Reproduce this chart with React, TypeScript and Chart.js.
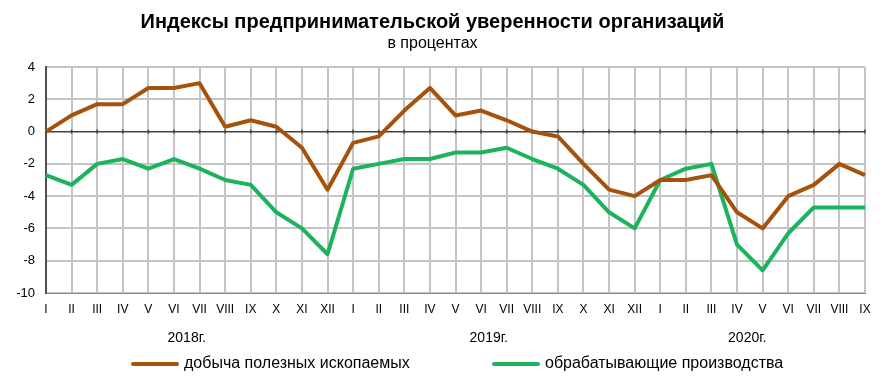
import React, { useEffect, useRef } from 'react';
import { Chart, registerables } from 'chart.js';

Chart.register(...registerables);

const FONT = "'Liberation Sans', Arial, sans-serif";

const MONTHS_2018 = ['I', 'II', 'III', 'IV', 'V', 'VI', 'VII', 'VIII', 'IX', 'X', 'XI', 'XII'];
const MONTHS_2019 = ['I', 'II', 'III', 'IV', 'V', 'VI', 'VII', 'VIII', 'IX', 'X', 'XI', 'XII'];
const MONTHS_2020 = ['I', 'II', 'III', 'IV', 'V', 'VI', 'VII', 'VIII', 'IX'];
const categories = [...MONTHS_2018, ...MONTHS_2019, ...MONTHS_2020];

// добыча полезных ископаемых
const mining = [
  0, 1, 1.7, 1.7, 2.7, 2.7, 3, 0.3, 0.7, 0.3, -1, -3.6,
  -0.7, -0.3, 1.3, 2.7, 1, 1.3, 0.7, 0, -0.3, -2, -3.6, -4,
  -3, -3, -2.7, -5, -6, -4, -3.3, -2, -2.7,
];
// обрабатывающие производства
const manufacturing = [
  -2.7, -3.3, -2, -1.7, -2.3, -1.7, -2.3, -3, -3.3, -5, -6, -7.6,
  -2.3, -2, -1.7, -1.7, -1.3, -1.3, -1, -1.7, -2.3, -3.3, -5, -6,
  -3, -2.3, -2, -7, -8.6, -6.3, -4.7, -4.7, -4.7,
];

const seriesNames = ['добыча полезных ископаемых', 'обрабатывающие производства'];
const seriesColors = ['#A5520C', '#1DB35C'];
const yearLabels = ['2018г.', '2019г.', '2020г.'];
const yearCenters = [5.5, 17.3, 27.4];

const TITLE = 'Индексы предпринимательской уверенности организаций';
const SUBTITLE = 'в процентах';

const extrasPlugin = {
  id: 'extras',
  beforeDatasetsDraw(chart: any) {
    const { ctx, scales } = chart;
    const x = scales.x;
    const y = scales.y;
    const y0 = y.getPixelForValue(0);
    ctx.save();
    ctx.strokeStyle = '#404040';
    ctx.lineWidth = 1.5;
    for (let i = 0; i < categories.length; i++) {
      const px = x.getPixelForValue(i);
      ctx.beginPath();
      ctx.moveTo(px, y0 - 2);
      ctx.lineTo(px, y0 + 2);
      ctx.stroke();
    }
    ctx.restore();
  },
  afterDraw(chart: any) {
    const { ctx, scales, chartArea } = chart;
    const x = scales.x;
    ctx.save();
    ctx.fillStyle = '#000';
    ctx.font = `14px ${FONT}`;
    ctx.textAlign = 'center';
    ctx.textBaseline = 'middle';
    yearLabels.forEach((lab, i) => {
      ctx.fillText(lab, x.getPixelForValue(yearCenters[i]), chartArea.bottom + 45);
    });
    // legend
    const ly = chartArea.bottom + 71;
    const starts = [133, 494];
    ctx.font = `16px ${FONT}`;
    ctx.textAlign = 'left';
    seriesNames.forEach((name, i) => {
      const sx = starts[i];
      ctx.strokeStyle = seriesColors[i];
      ctx.lineWidth = 4;
      ctx.lineCap = 'round';
      ctx.beginPath();
      ctx.moveTo(sx, ly);
      ctx.lineTo(sx + 44, ly);
      ctx.stroke();
      ctx.fillStyle = '#000';
      ctx.fillText(name, sx + 51, ly);
    });
    ctx.restore();
  },
};

export default function App() {
  const ref = useRef<HTMLCanvasElement>(null);
  useEffect(() => {
    if (!ref.current) return;
    Chart.defaults.font.family = FONT;
    const chart = new Chart(ref.current, {
      type: 'line',
      data: {
        labels: categories,
        datasets: [
          {
            label: seriesNames[0],
            data: mining,
            borderColor: seriesColors[0],
            backgroundColor: seriesColors[0],
            borderWidth: 4,
            pointRadius: 0,
            tension: 0,
            borderJoinStyle: 'round',
          },
          {
            label: seriesNames[1],
            data: manufacturing,
            borderColor: seriesColors[1],
            backgroundColor: seriesColors[1],
            borderWidth: 4,
            pointRadius: 0,
            tension: 0,
            borderJoinStyle: 'round',
          },
        ],
      },
      options: {
        responsive: false,
        animation: false,
        layout: { padding: { left: 0, right: 18, top: 0, bottom: 58 } },
        plugins: {
          legend: { display: false },
          tooltip: { enabled: false },
          title: {
            display: true,
            text: TITLE,
            color: '#000',
            font: { family: FONT, size: 20, weight: 'bold' },
            padding: { top: 10, bottom: 0.4 },
          },
          subtitle: {
            display: true,
            text: SUBTITLE,
            color: '#000',
            font: { family: FONT, size: 16 },
            padding: { top: 0, bottom: 13.4 },
          },
        },
        scales: {
          x: {
            offset: false,
            grid: { color: '#c4c4c4', lineWidth: 2, drawTicks: false },
            border: { color: '#8a8a8a', width: 1 },
            ticks: {
              padding: 9,
              autoSkip: false,
              maxRotation: 0,
              color: '#000',
              font: { family: FONT, size: 12 },
            },
            afterFit: (s: any) => {
              s.height = 30;
            },
          },
          y: {
            min: -10,
            max: 4,
            ticks: { stepSize: 2, padding: 11, color: '#000', font: { family: FONT, size: 13 } },
            grid: {
              color: (c: any) => (c.tick && c.tick.value === 0 ? '#404040' : '#c4c4c4'),
              lineWidth: (c: any) => (c.tick && c.tick.value === 0 ? 1.5 : 2),
              drawTicks: false,
            },
            border: { color: '#505050', width: 2 },
            afterFit: (s: any) => {
              s.width = 46;
            },
          },
        },
      },
      plugins: [extrasPlugin],
    });
    return () => chart.destroy();
  }, []);
  return (
    <div style={{ position: 'absolute', left: 0, top: 0, width: 883, height: 381, background: '#fff' }}>
      <canvas ref={ref} width={883} height={381} />
    </div>
  );
}
